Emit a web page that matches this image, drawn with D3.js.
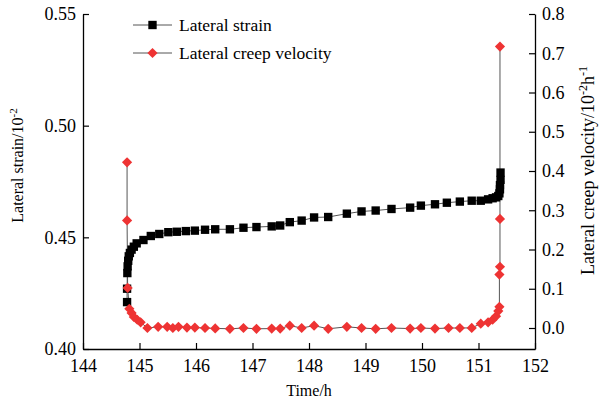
<!DOCTYPE html>
<html>
<head>
<meta charset="utf-8">
<script src="https://cdn.jsdelivr.net/npm/d3@7"></script>
<style>
  html, body { margin: 0; padding: 0; background: #fff; }
  svg { display: block; font-family: "Liberation Serif", "Times New Roman", serif; }
</style>
</head>
<body>
<svg id="chart" width="607" height="405"></svg>
<script>
// Lateral strain (10^-2) against time (h)
const strainTime = [144.78, 144.78, 144.785, 144.79, 144.80, 144.81, 144.83, 144.86, 144.90, 144.95,
  145.07, 145.20, 145.35, 145.51, 145.66, 145.82, 145.98, 146.16, 146.34, 146.60,
  146.84, 147.07, 147.34, 147.49, 147.66, 147.87, 148.09, 148.34, 148.67, 148.93,
  149.18, 149.46, 149.79, 149.98, 150.23, 150.44, 150.67, 150.88, 151.04, 151.17,
  151.25, 151.31, 151.35, 151.37, 151.38, 151.38, 151.39, 151.39];
const strainValue = [0.421, 0.427, 0.434, 0.437, 0.4395, 0.4415, 0.443, 0.4445, 0.4458, 0.4473,
  0.4488, 0.4506, 0.4515, 0.4523, 0.4525, 0.4528, 0.4530, 0.4534, 0.4536, 0.4536,
  0.4543, 0.4546, 0.4549, 0.4553, 0.4568, 0.4575, 0.4589, 0.4591, 0.4606, 0.4616,
  0.4620, 0.4627, 0.4633, 0.4642, 0.4648, 0.4655, 0.4660, 0.4664, 0.4664, 0.4670,
  0.4675, 0.4679, 0.4685, 0.4697, 0.4715, 0.4734, 0.4757, 0.479];

// Lateral creep velocity (10^-2 h^-1) against time (h)
const velocityTime = [144.78, 144.78, 144.79, 144.82, 144.86, 144.90, 144.96, 145.02, 145.14, 145.33,
  145.49, 145.59, 145.69, 145.84, 145.98, 146.16, 146.34, 146.60, 146.84, 147.07,
  147.34, 147.49, 147.66, 147.87, 148.09, 148.34, 148.67, 148.93, 149.18, 149.46,
  149.79, 149.98, 150.23, 150.47, 150.67, 150.88, 151.04, 151.17, 151.25, 151.31,
  151.35, 151.37, 151.37, 151.38, 151.38, 151.38];
const velocityValue = [0.422, 0.274, 0.102, 0.049, 0.0385, 0.028, 0.021, 0.0145, 0.000, 0.003,
  0.003, 0.000, 0.003, 0.001, 0.001, 0.000, -0.001, -0.002, 0.000, -0.002,
  -0.0015, -0.0015, 0.006, 0.000, 0.006, -0.002, 0.003, 0.000, -0.002, 0.000,
  -0.0015, 0.000, -0.0015, 0.000, 0.000, 0.0003, 0.011, 0.0145, 0.021, 0.030,
  0.043, 0.054, 0.136, 0.156, 0.278, 0.717];

const timeTicks = [144, 145, 146, 147, 148, 149, 150, 151, 152];
const strainTicks = [0.40, 0.45, 0.50, 0.55];
const velocityTicks = [0.0, 0.1, 0.2, 0.3, 0.4, 0.5, 0.6, 0.7, 0.8];

const seriesNames = ["Lateral strain", "Lateral creep velocity"];

const W = 607, H = 405;
const margin = { top: 14, right: 72, bottom: 56, left: 83 };
const svg = d3.select("#chart");

const x = d3.scaleLinear().domain([144, 152]).range([margin.left, W - margin.right]);
const yL = d3.scaleLinear().domain([0.40, 0.55]).range([H - margin.bottom, margin.top]);
const yR = d3.scaleLinear().domain([-0.0535, 0.8]).range([H - margin.bottom, margin.top]);

const red = "#ee3333";
const tickFont = 18;

// axes with inward ticks
function styleAxis(g) {
  g.selectAll("path.domain").attr("stroke", "#000").attr("stroke-width", 1.3);
  g.selectAll(".tick line").attr("stroke", "#000").attr("stroke-width", 1.2);
  g.selectAll(".tick text").attr("fill", "#000").style("font-size", tickFont + "px")
    .style("font-family", '"Liberation Serif", serif');
}

const xAxis = svg.append("g")
  .attr("transform", `translate(0,${H - margin.bottom})`)
  .call(d3.axisBottom(x).tickValues(timeTicks).tickFormat(d3.format("d"))
    .tickSizeInner(-6).tickSizeOuter(0).tickPadding(10));
styleAxis(xAxis);

const leftAxis = svg.append("g")
  .attr("transform", `translate(${margin.left},0)`)
  .call(d3.axisLeft(yL).tickValues(strainTicks).tickFormat(d3.format(".2f"))
    .tickSizeInner(-6).tickSizeOuter(0).tickPadding(7));
styleAxis(leftAxis);

const rightAxis = svg.append("g")
  .attr("transform", `translate(${W - margin.right},0)`)
  .call(d3.axisRight(yR).tickValues(velocityTicks).tickFormat(d3.format(".1f"))
    .tickSizeInner(-6).tickSizeOuter(0).tickPadding(7));
styleAxis(rightAxis);

// axis titles
svg.append("text")
  .attr("x", x(148)).attr("y", 396)
  .attr("text-anchor", "middle").style("font-size", "16px")
  .text("Time/h");

const lt = svg.append("text")
  .attr("transform", `translate(23,${(margin.top + H - margin.bottom) / 2 - 16}) rotate(-90)`)
  .attr("text-anchor", "middle").style("font-size", "16px");
lt.append("tspan").text("Lateral strain/10");
lt.append("tspan").attr("dy", -6).style("font-size", "11px").text("-2");

const rt = svg.append("text")
  .attr("transform", `translate(594,${(margin.top + H - margin.bottom) / 2 - 11}) rotate(-90)`)
  .attr("text-anchor", "middle").style("font-size", "18px");
rt.append("tspan").text("Lateral creep velocity/10");
rt.append("tspan").attr("dy", -7).style("font-size", "12px").text("-2");
rt.append("tspan").attr("dy", 7).text("h");
rt.append("tspan").attr("dy", -7).style("font-size", "12px").text("-1");

// series data
const strainData = strainTime.map((t, i) => ({ t, v: strainValue[i] }));
const velocityData = velocityTime.map((t, i) => ({ t, v: velocityValue[i] }));

const lineColor = "#555";
svg.append("path")
  .datum(strainData)
  .attr("fill", "none").attr("stroke", lineColor).attr("stroke-width", 1)
  .attr("d", d3.line().x(d => x(d.t)).y(d => yL(d.v)));

svg.append("path")
  .datum(velocityData)
  .attr("fill", "none").attr("stroke", lineColor).attr("stroke-width", 1)
  .attr("d", d3.line().x(d => x(d.t)).y(d => yR(d.v)));

const squareSym = d3.symbol().type(d3.symbolSquare).size(70);
const diamondSym = d3.symbol().type(d3.symbolSquare).size(52);

svg.append("g").selectAll("path")
  .data(strainData).join("path")
  .attr("d", squareSym)
  .attr("transform", d => `translate(${x(d.t)},${yL(d.v)})`)
  .attr("fill", "#000");

svg.append("g").selectAll("path")
  .data(velocityData).join("path")
  .attr("d", diamondSym)
  .attr("transform", d => `translate(${x(d.t)},${yR(d.v)}) rotate(45)`)
  .attr("fill", red);

// legend
const legend = svg.append("g");
const legendRows = [
  { name: seriesNames[0], y: 25, sym: squareSym, fill: "#000", rot: 0 },
  { name: seriesNames[1], y: 53, sym: diamondSym, fill: red, rot: 45 }
];
legendRows.forEach(r => {
  legend.append("line")
    .attr("x1", 133).attr("x2", 172).attr("y1", r.y).attr("y2", r.y)
    .attr("stroke", lineColor).attr("stroke-width", 1);
  legend.append("path")
    .attr("d", r.sym)
    .attr("transform", `translate(152.5,${r.y}) rotate(${r.rot})`)
    .attr("fill", r.fill);
  legend.append("text")
    .attr("x", 179).attr("y", r.y + 6)
    .style("font-size", "17.5px")
    .text(r.name);
});
</script>
</body>
</html>
